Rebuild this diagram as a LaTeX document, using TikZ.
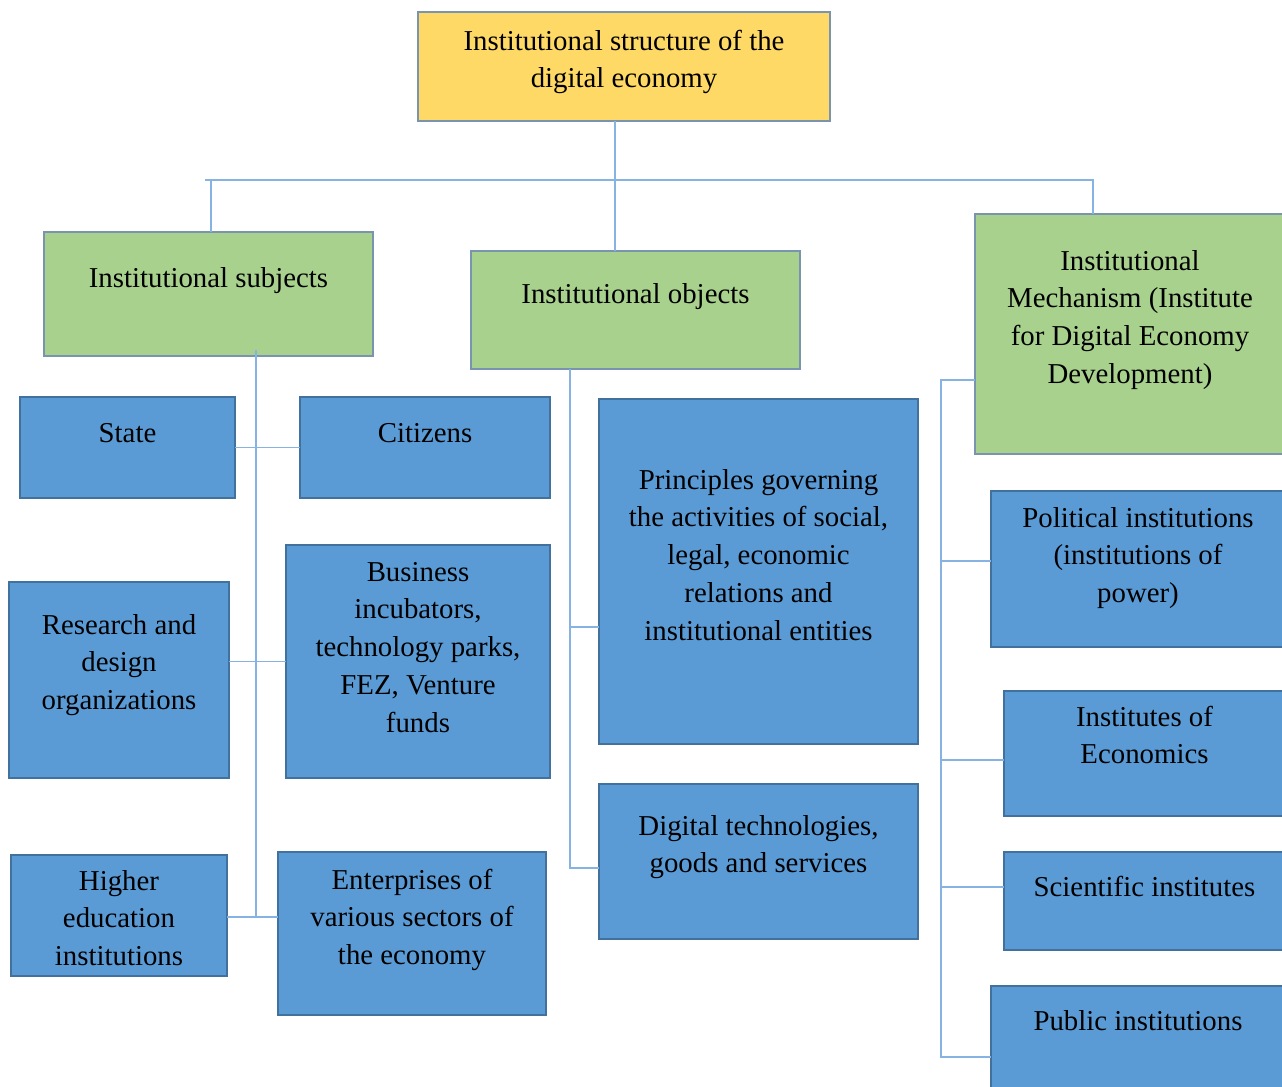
\documentclass[tikz,border=0pt]{standalone}
\usepackage{fontspec}
\setmainfont{Liberation Serif}
\usepackage{tikz}
\usetikzlibrary{positioning}
\definecolor{gold}{HTML}{FFD966}
\definecolor{leaf}{HTML}{A9D18E}
\definecolor{sky}{HTML}{5B9BD5}
\definecolor{skyedge}{HTML}{41719C}
\definecolor{greyedge}{HTML}{7A93AE}
\definecolor{linkc}{HTML}{86B3E2}
\newlength\pxu \setlength\pxu{0.02cm}
% width, height, first baseline from top, text
\newcommand{\boxtxt}[4]{\parbox[c][#2\pxu][t]{#1\pxu}{\centering\fontsize{16.4}{21.6}\selectfont
  \vspace*{\dimexpr#3\pxu-15.12pt\relax}\strut#4\par}}

\begin{document}
\begin{tikzpicture}[x=0.02cm,y=-0.02cm,
    blk/.style={draw,line width=0.9pt,inner sep=0pt,outer sep=0pt,anchor=north west},
    top/.style={blk,fill=gold,draw=greyedge},
    grp/.style={blk,fill=leaf,draw=greyedge},
    item/.style={blk,fill=sky,draw=skyedge},
    link/.style={draw=linkc,line width=1.1pt}]
  \useasboundingbox (0,0) rectangle (1282,1086);
  \clip (0,0) rectangle (1282,1086);

  \node[top] (root) at (418,12) {\boxtxt{412}{109}{38}{Institutional structure of the\\digital economy}};

  \node[grp] (subj) at (44,232) {\boxtxt{329}{124}{55}{Institutional subjects}};
  \node[grp] (obj) at (471,251) {\boxtxt{329}{118}{52}{Institutional objects}};
  \node[grp] (mech) at (975,214) {\boxtxt{310}{240}{56}{Institutional\\Mechanism (Institute\\for Digital Economy\\Development)}};

  % subjects
  \node[item] (state) at (20,397) {\boxtxt{215}{101}{45}{State}};
  \node[item] (citiz) at (300,397) {\boxtxt{250}{101}{45}{Citizens}};
  \node[item] (resdes) at (9,582) {\boxtxt{220}{196}{52}{Research and\\design\\organizations}};
  \node[item] (incub) at (286,545) {\boxtxt{264}{233}{36}{Business\\incubators,\\technology parks,\\FEZ, Venture\\funds}};
  \node[item] (higher) at (11,855) {\boxtxt{216}{121}{35}{Higher\\education\\institutions}};
  \node[item] (enterp) at (278,852) {\boxtxt{268}{163}{37}{Enterprises of\\various sectors of\\the economy}};

  % objects
  \node[item] (princ) at (599,399) {\boxtxt{319}{345}{90}{Principles governing\\the activities of social,\\legal, economic\\relations and\\institutional entities}};
  \node[item] (digit) at (599,784) {\boxtxt{319}{155}{51}{Digital technologies,\\goods and services}};

  % mechanism
  \node[item] (polit) at (991,491) {\boxtxt{294}{156}{36}{Political institutions\\(institutions of\\power)}};
  \node[item] (econ) at (1004,691) {\boxtxt{281}{125}{35}{Institutes of\\Economics}};
  \node[item] (sci) at (1004,852) {\boxtxt{281}{98}{44}{Scientific institutes}};
  \node[item] (pub) at (991,986) {\boxtxt{294}{105}{44}{Public institutions}};

  % top level bus
  \coordinate (busl) at (205,180);
  \coordinate (busr) at (1093,180);
  \coordinate (hub) at (615,180);
  \coordinate (sdrop) at (211,180);
  \draw[link] (busl) -- (busr) -- (mech.north -| busr);
  \draw[link] (root.south -| hub) -- (obj.north -| hub);
  \draw[link] (sdrop) -- (subj.north -| sdrop);

  % subjects spine
  \coordinate (s0) at (256,350);
  \coordinate (s1) at (256,917);
  \draw[link] (s0) -- (s1);
  \draw[link] (state.east) -- (citiz.west);
  \draw[link] (incub.west -| resdes.east) -- (incub.west);
  \draw[link] (s1 -| higher.east) -- (s1 -| enterp.west);

  % objects spine
  \coordinate (o0) at (570,369);
  \coordinate (o1) at (570,627);
  \coordinate (o2) at (570,868);
  \draw[link] (o0) -- (o2) -- (o2 -| digit.west);
  \draw[link] (o1) -- (o1 -| princ.west);

  % mechanism spine
  \coordinate (m0) at (941,380);
  \coordinate (m1) at (941,561);
  \coordinate (m2) at (941,760);
  \coordinate (m3) at (941,887);
  \coordinate (m4) at (941,1057);
  \draw[link] (m0 -| mech.west) -- (m0) -- (m4) -- (m4 -| pub.west);
  \draw[link] (m1) -- (m1 -| polit.west);
  \draw[link] (m2) -- (m2 -| econ.west);
  \draw[link] (m3) -- (m3 -| sci.west);
\end{tikzpicture}
\end{document}
